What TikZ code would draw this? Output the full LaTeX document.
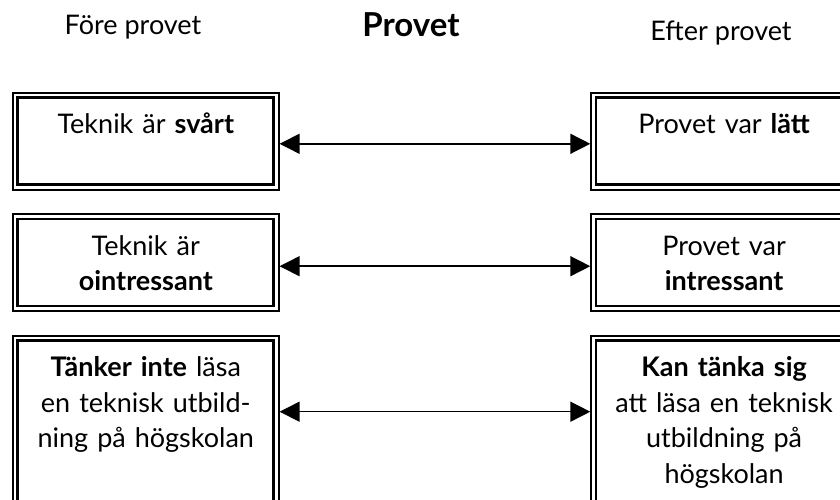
\documentclass[tikz,border=0pt]{standalone}
\usepackage{fontspec}
\setmainfont{Lato}
\usepackage{tikz}
\usetikzlibrary{arrows.meta,positioning}

\begin{document}
\begin{tikzpicture}[x=1pt, y=-1pt, node distance=22.7pt,
    box/.style={rectangle, draw, line width=1.6pt, fill=white, inner sep=0pt,
        minimum width=266pt, text width=250pt, align=center, anchor=north west,
        text height=41pt, text depth=56pt,
        font=\fontsize{27pt}{35.5pt}\selectfont,
        path picture={\draw[line width=2.7pt]
            ([shift={(5pt,-5pt)}]path picture bounding box.north west) rectangle
            ([shift={(-5pt,5pt)}]path picture bounding box.south east);}},
    head/.style={anchor=base, font=\fontsize{27pt}{30pt}\selectfont},
    link/.style={{Triangle[length=20pt,width=20pt]}-{Triangle[length=20pt,width=20pt]}, line width=1.5pt}]

    \path[use as bounding box, clip] (0,0) rectangle (840,500);

    % Headings
    \node[head] (before) at (133,35) {Före provet};
    \node[head, font=\fontsize{33pt}{36pt}\selectfont\bfseries] (test) at (411,37) {Provet};
    \node[head] (after) at (721,41) {Efter provet};

    % Before the test
    \node[box] (l1) at (12,92) {Teknik är \textbf{svårt}};
    \node[box, below=of l1] (l2) {Teknik är\\\textbf{ointressant}};
    \node[box, below=23pt of l2, text depth=131pt] (l3) {\textbf{Tänker inte} läsa\\en teknisk utbild-\\ning på högskolan};

    % After the test
    \node[box, right=310.7pt of l1] (r1) {Provet var \textbf{lätt}};
    \node[box, right=310.7pt of l2] (r2) {Provet var\\\textbf{intressant}};
    \node[box, right=310.7pt of l3, text depth=131pt] (r3) {\textbf{Kan tänka sig}\\att läsa en teknisk\\utbildning på\\högskolan};

    % Arrows
    \draw[link] ([yshift=-2.5pt]l1.east) -- ([yshift=-2.5pt]r1.west);
    \draw[link] ([yshift=-3.6pt]l2.east) -- ([yshift=-3.6pt]r2.west);
    \draw[link] ([yshift=10pt]l3.east) -- ([yshift=10pt]r3.west);

\end{tikzpicture}
\end{document}
